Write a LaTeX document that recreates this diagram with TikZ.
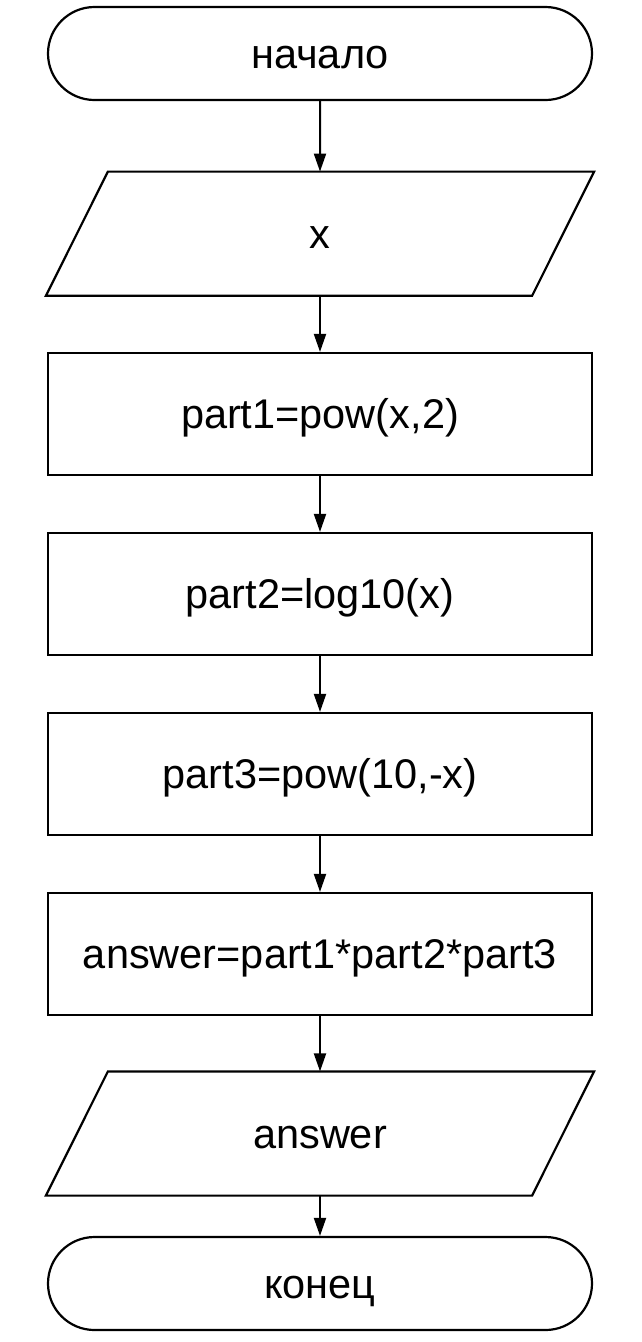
\documentclass[tikz,border=0pt]{standalone}
\usepackage{fontspec}
\setmainfont{Liberation Sans}
\usetikzlibrary{shapes.misc,arrows.meta}
\begin{document}
\begin{tikzpicture}[x=1pt,y=1pt,
  every node/.style={font=\fontsize{41.5}{48}\selectfont, line width=2.2pt, inner sep=0pt, text height=31pt, text depth=2pt},
  term/.style={draw, rounded rectangle, rounded rectangle arc length=180, minimum width=544pt, minimum height=93pt},
  io/.style={rectangle, minimum width=546pt, minimum height=122pt},
  iobox/.style={line width=2.2pt},
  proc/.style={draw, rectangle, minimum width=544pt, minimum height=122pt},
  conn/.style={line width=2pt, -{Triangle[length=18pt,width=12pt]}}]
\useasboundingbox (0,0) rectangle (642,-1342);
\node[term] (start) at (320,-53.5) {начало};
\node[io] (in) at (320,-233.7) {x};
\node[proc] (p1) at (320,-414) {part1=pow(x,2)};
\node[proc] (p2) at (320,-594) {part2=log10(x)};
\node[proc] (p3) at (320,-774) {part3=pow(10,-x)};
\node[proc] (p4) at (320,-954) {answer=part1*part2*part3};
\node[io] (out) at (320,-1133.5) {answer};
\node[term] (end) at (320,-1283.5) {конец};
\draw[iobox] ([xshift=62pt]in.north west) -- (in.north east) -- ([xshift=-62pt]in.south east) -- (in.south west) -- cycle;
\draw[iobox] ([xshift=62pt]out.north west) -- (out.north east) -- ([xshift=-62pt]out.south east) -- (out.south west) -- cycle;
\draw[conn] (start) -- (in);
\draw[conn] (in) -- (p1);
\draw[conn] (p1) -- (p2);
\draw[conn] (p2) -- (p3);
\draw[conn] (p3) -- (p4);
\draw[conn] (p4) -- (out);
\draw[conn] (out) -- (end);
\end{tikzpicture}
\end{document}
